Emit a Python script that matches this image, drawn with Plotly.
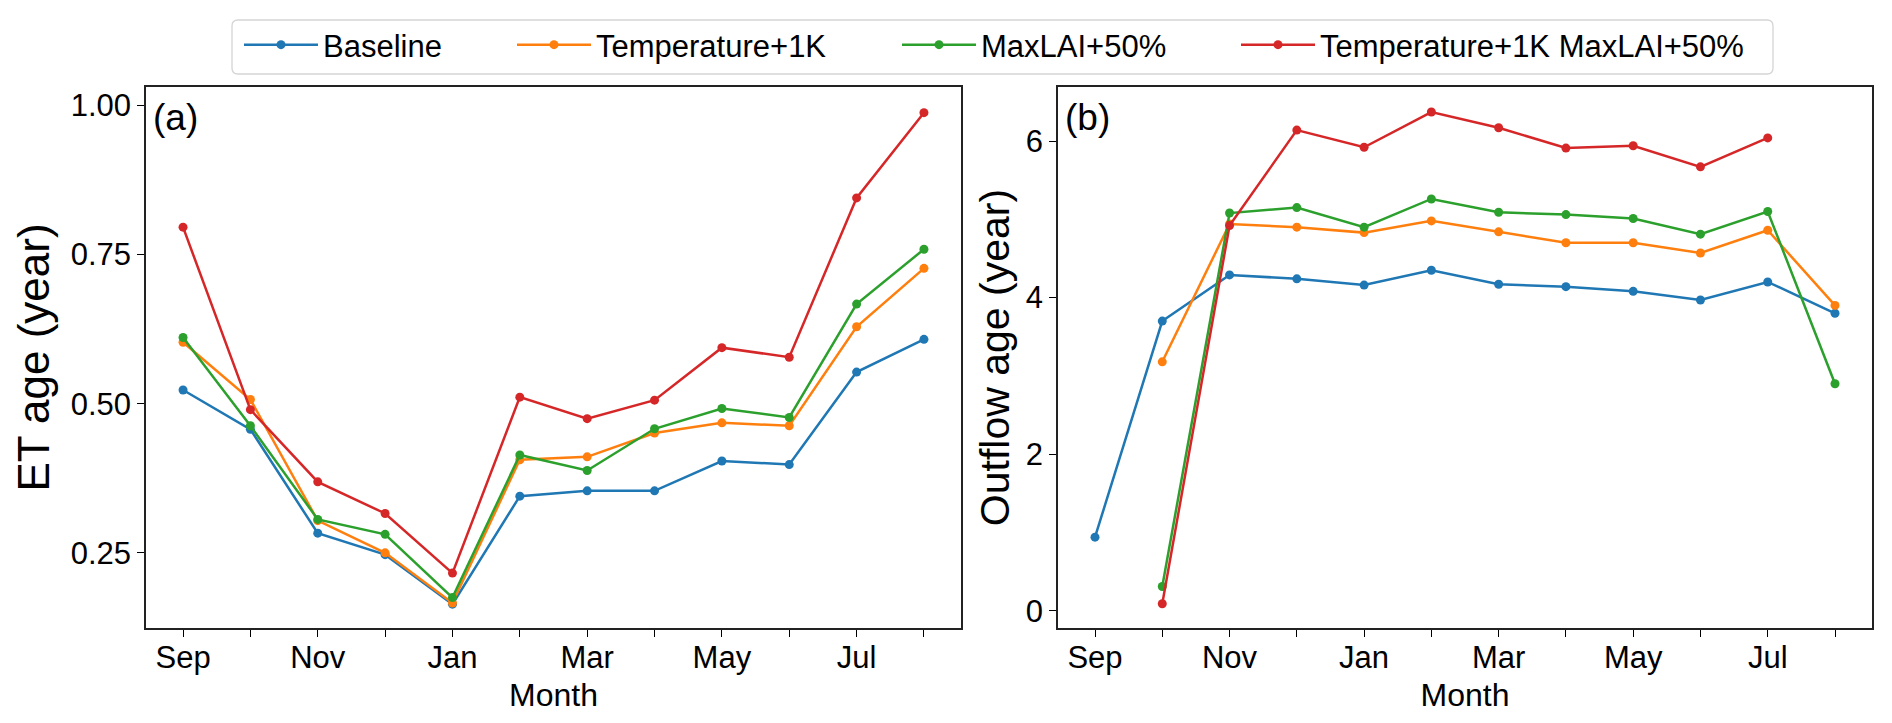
import plotly.graph_objects as go

months = ["Sep", "Oct", "Nov", "Dec", "Jan", "Feb", "Mar", "Apr", "May", "Jun", "Jul", "Aug"]
tick_text = ["Sep", "", "Nov", "", "Jan", "", "Mar", "", "May", "", "Jul", ""]
series_names = ["Baseline", "Temperature+1K", "MaxLAI+50%", "Temperature+1K MaxLAI+50%"]
colors = ["#1f77b4", "#ff7f0e", "#2ca02c", "#d62728"]

# (a) ET age (year)
et_baseline = [0.523, 0.457, 0.283, 0.247, 0.164, 0.345, 0.354, 0.354, 0.404, 0.398, 0.553, 0.608]
et_temp = [0.603, 0.507, 0.304, 0.250, 0.166, 0.406, 0.411, 0.451, 0.468, 0.463, 0.629, 0.727]
et_lai = [0.611, 0.463, 0.306, 0.281, 0.175, 0.414, 0.388, 0.458, 0.492, 0.477, 0.667, 0.759]
et_both = [0.796, 0.490, 0.369, 0.316, 0.216, 0.511, 0.475, 0.506, 0.594, 0.578, 0.845, 0.988]

# (b) Outflow age (year)
out_baseline = [0.94, 3.70, 4.29, 4.24, 4.16, 4.35, 4.17, 4.14, 4.08, 3.97, 4.20, 3.80]
out_temp = [None, 3.18, 4.94, 4.90, 4.83, 4.98, 4.84, 4.70, 4.70, 4.57, 4.86, 3.90]
out_lai = [None, 0.31, 5.08, 5.15, 4.90, 5.26, 5.09, 5.06, 5.01, 4.81, 5.10, 2.90]
out_both = [None, 0.09, 4.92, 6.14, 5.92, 6.37, 6.17, 5.91, 5.94, 5.67, 6.04, None]

et_series = [et_baseline, et_temp, et_lai, et_both]
out_series = [out_baseline, out_temp, out_lai, out_both]

W, H = 1892, 723
FONT = "Liberation Sans, Arial, sans-serif"
legend_ids = ["legend", "legend2", "legend3", "legend4"]
legend_line_start_px = [251, 524, 909, 1248]   # legend entry positions (px)

fig = go.Figure()
x_idx = list(range(len(months)))

for i, (name, col) in enumerate(zip(series_names, colors)):
    fig.add_trace(go.Scatter(
        x=x_idx, y=et_series[i], name=name, mode="lines+markers",
        line=dict(color=col, width=2.5), marker=dict(color=col, size=9),
        xaxis="x", yaxis="y", legendgroup=name, showlegend=True,
        legend=legend_ids[i],
    ))
for i, (name, col) in enumerate(zip(series_names, colors)):
    fig.add_trace(go.Scatter(
        x=x_idx, y=out_series[i], name=name, mode="lines+markers",
        line=dict(color=col, width=2.5), marker=dict(color=col, size=9),
        xaxis="x2", yaxis="y2", legendgroup=name, showlegend=False,
        connectgaps=False,
    ))

y0 = (H - 628) / H
y1 = (H - 87) / H

common_x = dict(
    range=[-0.55, 11.55], tickmode="array", tickvals=x_idx, ticktext=tick_text,
    ticks="outside", ticklen=7, tickwidth=1.3, tickcolor="black",
    showline=True, linecolor="#222222", linewidth=1.6, mirror=True,
    showgrid=False, zeroline=False, ticklabelstandoff=-6,
    tickfont=dict(size=31, color="black", family=FONT),
    title=dict(text="Month", font=dict(size=32, color="black", family=FONT), standoff=10),
)
common_y = dict(
    ticks="outside", ticklen=7, tickwidth=1.3, tickcolor="black",
    showline=True, linecolor="#222222", linewidth=1.6, mirror=True,
    showgrid=False, zeroline=False,
    tickfont=dict(size=31, color="black", family=FONT),
)

legend_common = dict(
    orientation="h", yanchor="middle", y=1 - 45 / H, xanchor="left",
    font=dict(size=31, color="black", family=FONT),
    borderwidth=0, bgcolor="rgba(0,0,0,0)", itemwidth=74,
)
legends = {}
for lid, lx in zip(legend_ids, legend_line_start_px):
    legends[lid] = dict(x=(lx - 12) / W, **legend_common)

# rounded legend frame
bx0, bx1, by0, by1, r = 232, 1773, 20, 74, 6
def px(x):
    return x / W
def py(y):
    return 1 - y / H
frame_path = (
    f"M {px(bx0 + r)},{py(by0)} L {px(bx1 - r)},{py(by0)} "
    f"Q {px(bx1)},{py(by0)} {px(bx1)},{py(by0 + r)} "
    f"L {px(bx1)},{py(by1 - r)} Q {px(bx1)},{py(by1)} {px(bx1 - r)},{py(by1)} "
    f"L {px(bx0 + r)},{py(by1)} Q {px(bx0)},{py(by1)} {px(bx0)},{py(by1 - r)} "
    f"L {px(bx0)},{py(by0 + r)} Q {px(bx0)},{py(by0)} {px(bx0 + r)},{py(by0)} Z"
)

fig.update_layout(
    width=W, height=H,
    margin=dict(l=0, r=0, t=0, b=0),
    paper_bgcolor="white", plot_bgcolor="white",
    font=dict(family=FONT, color="black"),
    xaxis=dict(domain=[146 / W, 961 / W], anchor="y", **common_x),
    xaxis2=dict(domain=[1058 / W, 1872 / W], anchor="y2", **common_x),
    yaxis=dict(domain=[y0, y1], anchor="x", range=[0.124, 1.031],
               tickvals=[0.25, 0.5, 0.75, 1.0], ticktext=["0.25", "0.50", "0.75", "1.00"],
               title=dict(text="ET age (year)", font=dict(size=44, color="black", family=FONT), standoff=7),
               **common_y),
    yaxis2=dict(domain=[y0, y1], anchor="x2", range=[-0.22, 6.69],
                tickvals=[0, 2, 4, 6],
                title=dict(text="Outflow age (year)", font=dict(size=41, color="black", family=FONT), standoff=3),
                **common_y),
    shapes=[dict(type="path", path=frame_path, xref="paper", yref="paper",
                 line=dict(color="#d5d5d5", width=1.3), fillcolor="rgba(0,0,0,0)", layer="below")],
    annotations=[
        dict(text="(a)", xref="x domain", yref="y domain", x=5 / 815, y=1 - 30 / 541,
             xanchor="left", yanchor="middle", showarrow=False,
             font=dict(size=37, color="black", family=FONT)),
        dict(text="(b)", xref="x2 domain", yref="y2 domain", x=5 / 814, y=1 - 30 / 541,
             xanchor="left", yanchor="middle", showarrow=False,
             font=dict(size=37, color="black", family=FONT)),
    ],
    **legends,
)

fig.write_html("out.html", config={"displayModeBar": False},
               post_script="document.body.style.margin='0px';")
